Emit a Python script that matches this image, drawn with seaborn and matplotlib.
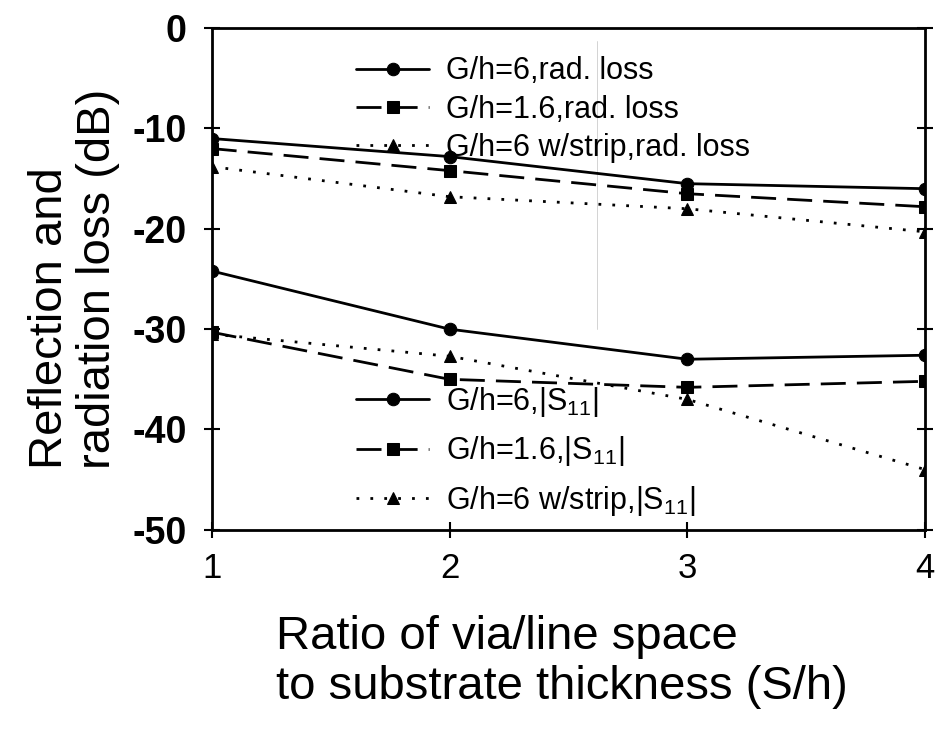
import matplotlib
matplotlib.use("Agg")
import matplotlib.pyplot as plt
import seaborn as sns

sns.set_theme(style="ticks")
plt.rcParams['font.family'] = ['Liberation Sans', 'DejaVu Sans']
plt.rcParams['mathtext.fontset'] = 'custom'
plt.rcParams['mathtext.rm'] = 'Liberation Sans'
for k in ['text.color', 'axes.labelcolor', 'xtick.color', 'ytick.color', 'axes.edgecolor']:
    plt.rcParams[k] = 'black'

x_vals = [1, 2, 3, 4]
rad_g6 = [-11.0, -12.8, -15.5, -16.0]
rad_g16 = [-12.0, -14.2, -16.5, -17.8]
rad_strip = [-13.8, -16.8, -18.0, -20.3]
s11_g6 = [-24.2, -30.0, -33.0, -32.6]
s11_g16 = [-30.3, -35.0, -35.8, -35.2]
s11_strip = [-30.5, -32.7, -37.0, -44.0]

labels_rad = ["G/h=6,rad. loss", "G/h=1.6,rad. loss", "G/h=6 w/strip,rad. loss"]
labels_s11 = [r"G/h=6,|S$_{\mathregular{11}}$|", r"G/h=1.6,|S$_{\mathregular{11}}$|",
              r"G/h=6 w/strip,|S$_{\mathregular{11}}$|"]
x_ticks = [1, 2, 3, 4]
y_ticks = [0, -10, -20, -30, -40, -50]

styles = [dict(ls='-', marker='o', ms=9),
          dict(ls=(0, (9, 4)), marker='s', ms=8),
          dict(ls=(0, (1, 4)), marker='^', ms=9)]

fig = plt.figure(figsize=(9.45, 7.41), dpi=100)
ax = fig.add_axes([0.224, 0.285, 0.755, 0.677])

# faint vertical scan artifact seen in the original
ax.axvline(2.62, ymin=0.40, ymax=0.975, color='0.8', lw=0.6, zorder=0)

handles_rad = []
for vals, lab, st in zip([rad_g6, rad_g16, rad_strip], labels_rad, styles):
    sns.lineplot(x=x_vals, y=vals, ax=ax, color='black', linestyle=st['ls'],
                 marker=st['marker'], markersize=st['ms'], lw=2, label=lab,
                 markeredgecolor='black', legend=False)
    handles_rad.append(ax.lines[-1])
handles_s11 = []
for vals, lab, st in zip([s11_g6, s11_g16, s11_strip], labels_s11, styles):
    sns.lineplot(x=x_vals, y=vals, ax=ax, color='black', linestyle=st['ls'],
                 marker=st['marker'], markersize=st['ms'], lw=2, label=lab,
                 markeredgecolor='black', legend=False)
    handles_s11.append(ax.lines[-1])

ax.set_xlim(1, 4)
ax.set_ylim(-50, 0)
ax.set_xticks(x_ticks)
ax.set_yticks(y_ticks)
ax.set_xticklabels([str(v) for v in x_ticks], fontsize=25)
ax.set_yticklabels([str(v) for v in y_ticks], fontsize=27, fontweight='bold')
ax.tick_params(axis='both', direction='inout', length=12, width=1.5, colors='black')
ax.tick_params(axis='x', pad=10)
ax.tick_params(axis='y', pad=12, right=True)
for sp in ax.spines.values():
    sp.set_linewidth(2)
    sp.set_color('black')
ax.set_facecolor('white')

ax.set_xlabel("Ratio of via/line space\nto substrate thickness (S/h)", fontsize=34,
              linespacing=1.2, multialignment='left')
ax.xaxis.set_label_coords(0.491, -0.169)
ax.xaxis.label.set_va('top')
ax.set_ylabel("Reflection and\nradiation loss (dB)", fontsize=34, linespacing=1.1,
              multialignment='left')
ax.yaxis.set_label_coords(-0.193, 0.5)
ax.yaxis.label.set_va('center')

leg1 = ax.legend(handles_rad, labels_rad, loc='upper left', bbox_to_anchor=(0.185, 0.968),
                 frameon=False, fontsize=22, handlelength=2.4, handletextpad=0.55,
                 labelspacing=0.27, borderaxespad=0)
ax.add_artist(leg1)
leg2 = ax.legend(handles_s11, labels_s11, loc='upper left', bbox_to_anchor=(0.185, 0.313),
                 frameon=False, fontsize=22, handlelength=2.4, handletextpad=0.55,
                 labelspacing=0.5, borderaxespad=0)

fig.savefig("out.png", dpi=100, facecolor='white')
